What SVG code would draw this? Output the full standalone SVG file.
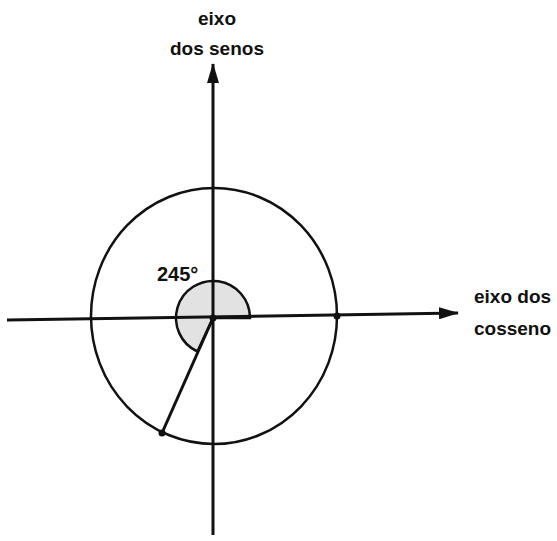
<svg xmlns="http://www.w3.org/2000/svg" width="557" height="541" viewBox="0 0 557 541">
<style>
.t{font-family:"Liberation Sans",Arial,sans-serif;font-weight:bold;font-size:19px;fill:#111}
.ax{stroke:#111;stroke-width:3;fill:none}
.c{stroke:#111;stroke-width:2.5;fill:none}
</style>
<defs>
<marker id="ar" viewBox="0 0 20 12" refX="19" refY="6" markerWidth="20" markerHeight="12" markerUnits="userSpaceOnUse" orient="auto">
<path d="M0,0 L20,6 L0,12 Z" fill="#111"/>
</marker>
</defs>
<rect width="557" height="541" fill="#fff"/>
<g id="angle">
<path d="M213,318 L250,318 A37,37 0 1 0 197.4,351.5 Z" fill="#e2e2e2" stroke="#111" stroke-width="2.5"/>
</g>
<g id="circle">
<ellipse cx="214" cy="316" rx="123" ry="128" class="c"/>
</g>
<g id="connectors">
<line x1="213" y1="535" x2="213" y2="64" class="ax" marker-end="url(#ar)"/>
<line x1="7" y1="320" x2="458" y2="313" class="ax" marker-end="url(#ar)"/>
<line x1="213" y1="318" x2="162" y2="433" class="ax"/>
</g>
<g id="points">
<circle cx="213" cy="318" r="3.5" fill="#111"/>
<circle cx="337" cy="316" r="3.5" fill="#111"/>
<circle cx="162" cy="433" r="3.5" fill="#111"/>
</g>
<g id="label-senos">
<text class="t" x="217" y="25" text-anchor="middle">eixo</text>
<text class="t" x="217" y="55" text-anchor="middle">dos senos</text>
</g>
<g id="label-cossenos">
<text class="t" x="474" y="303">eixo dos</text>
<text class="t" x="474" y="335">cosseno</text>
</g>
<g id="label-angle">
<text class="t" x="157" y="281" style="font-size:20px">245°</text>
</g>
</svg>
